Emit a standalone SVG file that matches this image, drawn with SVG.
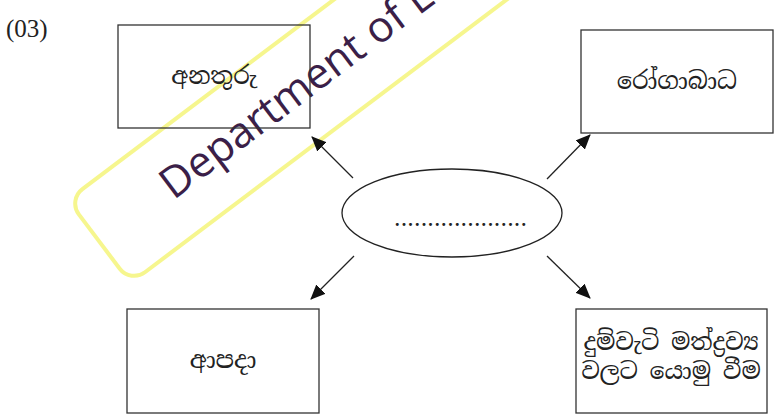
<svg xmlns="http://www.w3.org/2000/svg" width="775" height="418" viewBox="0 0 775 418">
<style>
.box{fill:none;stroke:#333;stroke-width:1.3}
.si{font-family:"Noto Serif Sinhala","Noto Sans Sinhala","Iskoola Pota","DejaVu Sans",serif;font-size:24px;fill:#222;text-anchor:middle}
.si2{font-size:23.5px}
.conn line{stroke:#222;stroke-width:1.3;marker-end:url(#ah)}
.wm{font-family:"Open Sans","Noto Sans",sans-serif;font-size:43px;fill:#3b1f48}
</style>
<defs>
<marker id="ah" markerUnits="userSpaceOnUse" markerWidth="15" markerHeight="13" refX="14" refY="6.5" orient="auto">
<path d="M0,0 L15,6.5 L0,13 Z" fill="#111"/>
</marker>
</defs>
<rect width="775" height="418" fill="#fff"/>
<g id="watermark" transform="translate(68,200) rotate(-37)">
<rect x="0" y="0" width="640" height="104" rx="18" fill="none" stroke="#f4f47a" stroke-width="4" opacity="0.85"/>
<text class="wm" x="84" y="64">Department of E</text>
</g>
<text x="6" y="37" font-family="Liberation Serif,serif" font-size="25" fill="#222">(03)</text>
<g class="conn" id="connectors">
<line x1="353" y1="178" x2="312" y2="137"/>
<line x1="547" y1="179" x2="590" y2="135"/>
<line x1="354" y1="256" x2="311" y2="299"/>
<line x1="547" y1="256" x2="590" y2="298"/>
</g>
<g id="center">
<ellipse cx="452" cy="213" rx="110" ry="44" fill="none" stroke="#222" stroke-width="1.3"/>
<text x="395" y="226" font-family="Liberation Serif,serif" font-size="18" font-weight="bold" fill="#222" textLength="131" lengthAdjust="spacing">....................</text>
</g>
<g id="n1">
<rect class="box" x="118" y="25" width="192" height="103"/>
<text class="si" x="214" y="84">අනතුරු</text>
</g>
<g id="n2">
<rect class="box" x="581" y="30" width="192" height="103"/>
<text class="si" x="677" y="89">රෝගාබාධ</text>
</g>
<g id="n3">
<rect class="box" x="127" y="309" width="192" height="104"/>
<text class="si" x="223" y="368">ආපදා</text>
</g>
<g id="n4">
<rect class="box" x="576" y="309" width="191" height="104"/>
<text class="si si2" x="671" y="350">දුම්වැටි මත්ද්‍රව්‍ය</text>
<text class="si si2" x="671" y="379">වලට යොමු වීම</text>
</g>
</svg>
